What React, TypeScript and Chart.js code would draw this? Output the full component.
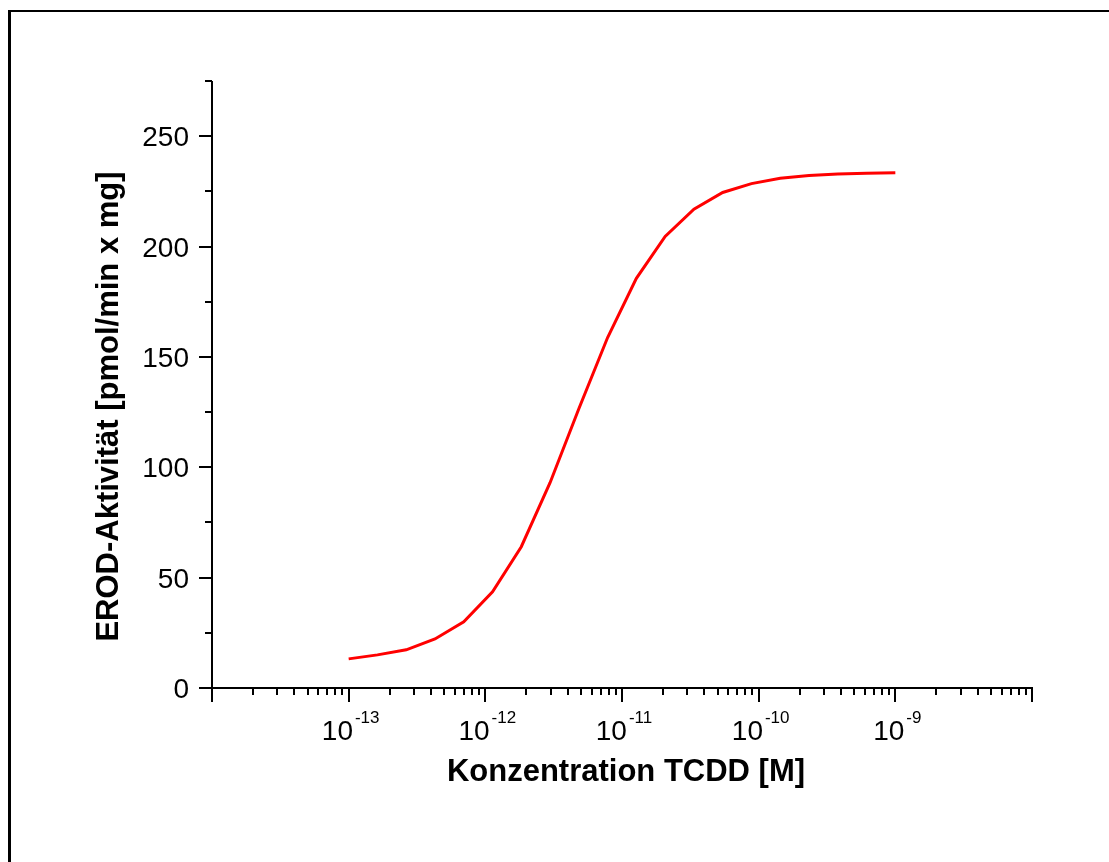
import { useEffect, useRef } from "react";
import { Chart, registerables } from "chart.js";

Chart.register(...registerables);

// TCDD concentrations [M] (20 log-spaced points from 1e-13 to 1e-9)
const concentrationsM = [
  1e-13, 1.624e-13, 2.637e-13, 4.281e-13, 6.952e-13,
  1.129e-12, 1.833e-12, 2.976e-12, 4.833e-12, 7.848e-12,
  1.274e-11, 2.069e-11, 3.36e-11, 5.456e-11, 8.859e-11,
  1.438e-10, 2.336e-10, 3.793e-10, 6.158e-10, 1e-9,
];
// EROD activity [pmol/min x mg]
const erodActivity = [
  13.2, 15.0, 17.3, 22.2, 30.0,
  43.6, 64.0, 93.0, 126.5, 158.8,
  185.6, 204.6, 216.9, 224.5, 228.5,
  230.9, 232.2, 232.9, 233.2, 233.4,
];
const xMin = 1e-14;
const xMax = 1e-8;
const yMin = 0;
const yMax = 275;
const xLabelExponents = [-13, -12, -11, -10, -9];
const yTickValues = [0, 50, 100, 150, 200, 250];
const yMinorStep = 25;
const xAxisTitle = "Konzentration TCDD [M]";
const yAxisTitle = "EROD-Aktivität [pmol/min x mg]";

const FONT = '"Liberation Sans", Arial, sans-serif';

const axesPlugin = {
  id: "originAxes",
  afterDraw(chart: any) {
    const { ctx, chartArea } = chart;
    const xs = chart.scales.x;
    const ys = chart.scales.y;
    ctx.save();
    ctx.fillStyle = "#000";
    ctx.strokeStyle = "#000";

    // outer frame (left & top edges visible)
    ctx.fillRect(8, 10, 3, chart.height - 10);
    ctx.fillRect(8, 10, chart.width - 8, 2);

    const left = chartArea.left;
    const bottom = chartArea.bottom;
    const top = chartArea.top;
    const right = chartArea.right;

    ctx.lineWidth = 2;
    ctx.lineCap = "butt";
    // axis lines
    ctx.beginPath();
    ctx.moveTo(left, top);
    ctx.lineTo(left, bottom + 1);
    ctx.moveTo(left - 1, bottom);
    ctx.lineTo(right + 1, bottom);
    ctx.stroke();

    // y ticks
    ctx.beginPath();
    for (let v = yMin; v <= yMax + 0.001; v += yMinorStep) {
      const py = Math.round(ys.getPixelForValue(v));
      const major = yTickValues.includes(v);
      ctx.moveTo(left, py);
      ctx.lineTo(left - (major ? 13 : 7), py);
    }
    ctx.stroke();

    // x ticks
    ctx.beginPath();
    const eMin = Math.round(Math.log10(xMin));
    const eMax = Math.round(Math.log10(xMax));
    for (let e = eMin; e <= eMax; e++) {
      const base = Math.pow(10, e);
      const px = Math.round(xs.getPixelForValue(base));
      ctx.moveTo(px, bottom);
      ctx.lineTo(px, bottom + 14);
      if (e < eMax) {
        for (let m = 2; m <= 9; m++) {
          const mx = Math.round(xs.getPixelForValue(m * base));
          ctx.moveTo(mx, bottom);
          ctx.lineTo(mx, bottom + 7);
        }
      }
    }
    ctx.stroke();

    // y tick labels
    ctx.font = `28px ${FONT}`;
    ctx.textAlign = "right";
    ctx.textBaseline = "alphabetic";
    for (const v of yTickValues) {
      const py = ys.getPixelForValue(v);
      ctx.fillText(String(v), left - 23, py + 10);
    }

    // x tick labels 10^n
    for (const e of xLabelExponents) {
      const px = xs.getPixelForValue(Math.pow(10, e));
      ctx.font = `28px ${FONT}`;
      const w1 = ctx.measureText("10").width;
      const sup = String(e);
      ctx.font = `17px ${FONT}`;
      const w2 = ctx.measureText(sup).width;
      const total = w1 + 2 + w2;
      const sx = px - total / 2 + 2;
      ctx.textAlign = "left";
      ctx.font = `28px ${FONT}`;
      ctx.fillText("10", sx, bottom + 52);
      ctx.font = `17px ${FONT}`;
      ctx.fillText(sup, sx + w1 + 2, bottom + 35);
    }

    // axis titles
    ctx.font = `bold 31px ${FONT}`;
    ctx.textAlign = "center";
    ctx.fillText(xAxisTitle, (left + right) / 2 + 4, bottom + 93);

    ctx.save();
    ctx.translate(118, (top + bottom) / 2 + 22);
    ctx.rotate(-Math.PI / 2);
    ctx.fillText(yAxisTitle, 0, 0);
    ctx.restore();

    ctx.restore();
  },
};

export default function App() {
  const canvasRef = useRef<HTMLCanvasElement | null>(null);

  useEffect(() => {
    const canvas = canvasRef.current;
    if (!canvas) return;
    const chart = new Chart(canvas, {
      type: "line",
      data: {
        datasets: [
          {
            data: concentrationsM.map((c, i) => ({ x: c, y: erodActivity[i] })),
            borderColor: "#ff0000",
            borderWidth: 3,
            pointRadius: 0,
            tension: 0,
            fill: false,
          },
        ],
      },
      options: {
        responsive: false,
        animation: false,
        devicePixelRatio: 1,
        layout: { padding: { left: 212, top: 81, right: 77, bottom: 174 } },
        scales: {
          x: { type: "logarithmic", min: xMin, max: xMax, display: false },
          y: { type: "linear", min: yMin, max: yMax, display: false },
        },
        plugins: {
          legend: { display: false },
          tooltip: { enabled: false },
        },
      },
      plugins: [axesPlugin],
    });
    return () => chart.destroy();
  }, []);

  return (
    <div style={{ position: "fixed", left: 0, top: 0, width: 1109, height: 862, background: "#fff" }}>
      <canvas ref={canvasRef} width={1109} height={862} style={{ display: "block", width: 1109, height: 862 }} />
    </div>
  );
}
